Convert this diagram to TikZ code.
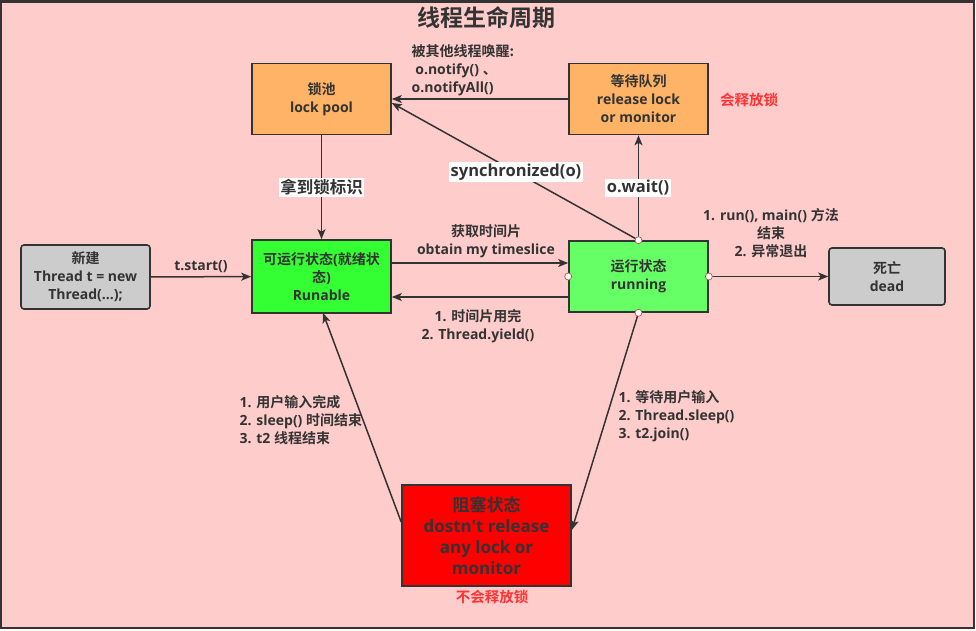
\documentclass[tikz,border=0pt]{standalone}
\usepackage{fontspec}
\setmainfont{Open Sans}[Ligatures=TeXOff]
\newfontfamily\cjk{Noto Sans CJK SC}[BoldFont={Noto Sans CJK SC Bold}]
\usetikzlibrary{positioning, arrows.meta}

\definecolor{bgpink}{HTML}{FFCCCC}
\definecolor{ink}{HTML}{333333}
\definecolor{poolorange}{HTML}{FFB366}
\definecolor{readygreen}{HTML}{33FF33}
\definecolor{rungreen}{HTML}{66FF66}
\definecolor{deadgray}{HTML}{CCCCCC}
\definecolor{noterred}{HTML}{FF3333}
\definecolor{portred}{HTML}{B85450}

\tikzstyle{state} = [rectangle, minimum width=139pt, minimum height=71pt, align=center, draw=ink, line width=1.6pt, text=ink, font=\bfseries\fontsize{14}{18}\selectfont]
\tikzstyle{endstate} = [state, rounded corners=3pt, fill=deadgray]
\tikzstyle{arrow} = [ink, line width=1.5pt, ->, >={Stealth[length=10pt, width=8pt, inset=2.5pt]}]
\tikzstyle{lbl} = [text=ink, font=\bfseries\fontsize{14}{18}\selectfont]
\tikzstyle{boxlbl} = [fill=white, inner sep=1.5pt, text=ink, font=\bfseries\fontsize{16.5}{19}\selectfont]
\tikzstyle{redlbl} = [text=noterred, font=\cjk\bfseries\fontsize{14.5}{16}\selectfont]
\tikzstyle{port} = [circle, fill=white, draw=portred, line width=0.7pt, inner sep=0pt, minimum size=7pt]

\begin{document}
\begin{tikzpicture}[x=1pt, y=-1pt]
	\useasboundingbox (0,0) rectangle (976,631);
	\draw [ink, line width=2.5pt, fill=bgpink] (1,1.5) rectangle (974,628);
	% Place nodes
	\node [text=ink, font=\cjk\bfseries\fontsize{23}{26}\selectfont] (title) at (486,18) {线程生命周期};
	\node [state, fill=poolorange] (LockPool) at (321.5,99) {{\cjk 锁池}\\lock pool};
	\node [state, fill=poolorange] (WaitQueue) at (638.5,99) {{\cjk 等待队列}\\release lock\\or monitor};
	\node [redlbl] (releaseNote) at (749,100) {会释放锁};
	\node [endstate, minimum width=129pt, minimum height=64pt] (New) at (85.5,277) {{\cjk 新建}\\Thread t = new\\Thread(...);};
	\node [state, fill=readygreen, minimum height=73pt] (Runable) at (321.5,276.5) {{\cjk 可运行状态}({\cjk 就绪状}\\{\cjk 态})\\Runable};
	\node [state, fill=rungreen] (Running) at (638.5,276.5) {{\cjk 运行状态}\\running};
	\node [endstate, minimum width=116pt, minimum height=57pt] (Dead) at (887,276.5) {{\cjk 死亡}\\dead};
	\node [state, fill=red, minimum width=169pt, minimum height=101pt, font=\bfseries\fontsize{17}{21}\selectfont] (Blocked) at (486.5,535.5) {{\cjk 阻塞状态}\\dostn't release\\any lock or\\monitor};
	\node [redlbl] (keepNote) at (492,597) {不会释放锁};
	% Draw edges
	\draw [arrow] (New) -- node [lbl, above] {t.start()} (Runable);
	\draw [arrow] (LockPool) -- node [boxlbl, font=\cjk\bfseries\fontsize{16.5}{19}\selectfont] {拿到锁标识} (Runable);
	\draw [arrow] (WaitQueue.west) -- (LockPool.east);
	\draw [arrow] (Running.north) -- (Runable.east |- 0,103);
	\draw [arrow] (Running.north) -- (WaitQueue.south);
	\draw [arrow] ([yshift=13.5pt]Runable.east) -- ([yshift=13.5pt]Running.west);
	\draw [arrow] ([yshift=-20.5pt]Running.west) -- ([yshift=-20.5pt]Runable.east);
	\draw [arrow] (Running.east) -- (Dead.west);
	\draw [arrow] (Running.south) -- (Blocked.east |- 0,530);
	\draw [arrow] (Blocked.west |- 0,522) -- (323,313);
	% Edge labels
	\node [lbl, align=left] (notifyText) at (463,70) {{\cjk 被其他线程唤醒:}\\\ o.notify() {\cjk 、}\\o.notifyAll()};
	\node [boxlbl] (syncText) at (516,172) {synchronized(o)};
	\node [boxlbl] (waitText) at (638,188) {o.wait()};
	\node [lbl, align=center] (sliceText) at (486,241) {{\cjk 获取时间片}\\obtain my timeslice};
	\node [lbl, align=center] (yieldText) at (478,326) {1. {\cjk 时间片用完}\\2. Thread.yield()};
	\node [lbl, align=center] (deadText) at (771,233) {1. run(), main() {\cjk 方法}\\{\cjk 结束}\\2. {\cjk 异常退出}};
	\node [lbl, align=left, anchor=west] (wakeText) at (236,420) {1. {\cjk 用户输入完成}\\2. sleep() {\cjk 时间结束}\\3. t2 {\cjk 线程结束}};
	\node [lbl, align=left, anchor=west] (sleepText) at (615,416) {1. {\cjk 等待用户输入}\\2. Thread.sleep()\\3. t2.join()};
	% ports on the running state
	\foreach \side in {north, south, east, west}
		\node [port] at (Running.\side) {};
\end{tikzpicture}
\end{document}
